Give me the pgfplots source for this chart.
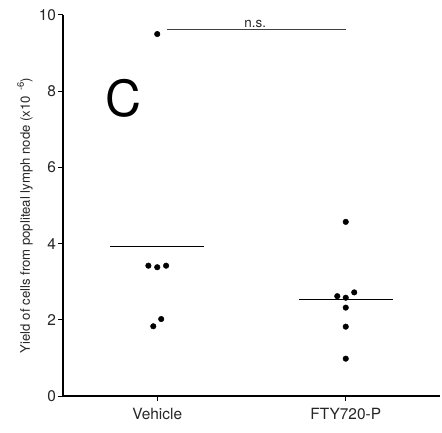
\documentclass[border=0pt]{standalone}
\usepackage{pgfplots}
\pgfplotsset{compat=1.18}
\usepackage{fontspec}
\setmainfont{TeX Gyre Heros}
\begin{document}
\begin{tikzpicture}
\begin{axis}[
 name=ax, scale only axis, width=377bp, height=381bp,
 xmin=0.5, xmax=2.5, ymin=0, ymax=10,
 axis x line=bottom, axis y line=left,
 axis line style={line width=1.2pt, -},
 xtick={1,2}, xticklabels={Vehicle, FTY720-P},
 ytick={0,2,4,6,8,10},
 yticklabels={0,2,4,6,8,10},
 tick align=outside, major tick length=5bp,
 tick style={line width=1pt, black},
 tick label style={font=\fontsize{15.5}{17}\selectfont, text=black!85},
 yticklabel style={xshift=1.5bp},
 xticklabel style={yshift=-4bp},
 clip=false,
]
\addplot[only marks, mark=*, mark size=2.8bp, black] coordinates {
 (1,9.5) (0.953,3.42) (1,3.38) (1.047,3.42) (0.979,1.83) (1.021,2.02)};
\addplot[only marks, mark=*, mark size=2.8bp, black] coordinates {
 (2,4.57) (1.955,2.62) (2,2.58) (2.045,2.72) (2,2.32) (2,1.82) (2,0.98)};
\addplot[line width=1.3pt, black] coordinates {(0.75,3.93) (1.25,3.93)};
\addplot[line width=1.3pt, black] coordinates {(1.75,2.53) (2.25,2.53)};
\addplot[line width=0.6pt, black!75] coordinates {(1.05,9.63) (2.0,9.63)};
\node[font=\fontsize{13.5}{14}\selectfont, text=black!85, above, inner sep=1bp] at (axis cs:1.52,9.63) {n.s.};
\node[font=\fontsize{50}{50}\selectfont] at (axis cs:0.82,7.8) {C};
\end{axis}
\node[inner sep=0pt, font=\fontsize{13.2}{15}\selectfont, text=black!85] at ([xshift=-38bp, yshift=-10bp]ax.west) {\rotatebox{90}{Yield of cells from popliteal lymph node (x10\raisebox{6bp}{\fontsize{9.5}{10}\selectfont\ \ -6})}};
\path ([shift={(-63bp,-37bp)}]ax.south west) rectangle ([shift={(2bp,15bp)}]ax.north east);
\end{tikzpicture}
\end{document}
